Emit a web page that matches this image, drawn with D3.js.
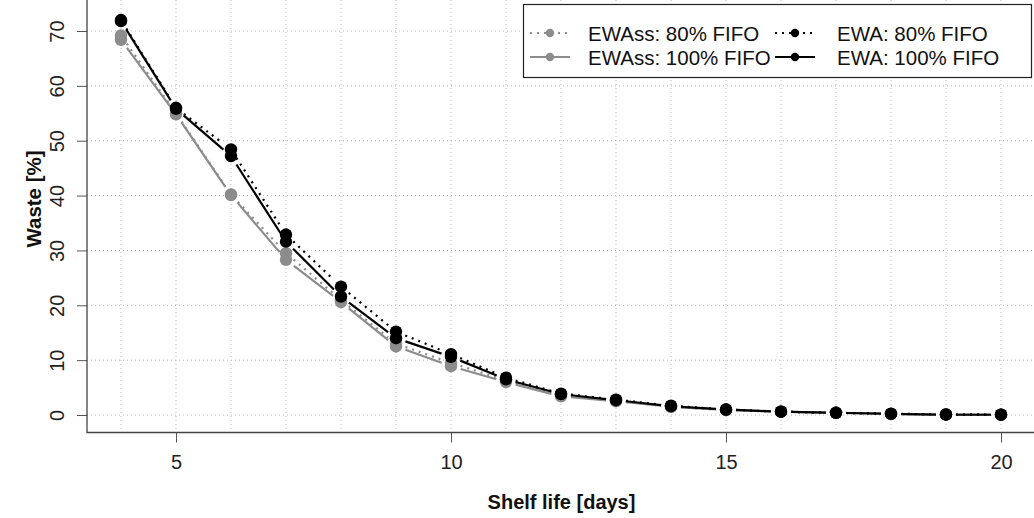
<!DOCTYPE html>
<html>
<head>
<meta charset="utf-8">
<script src="https://cdn.jsdelivr.net/npm/d3@7"></script>
<style>
  html, body { margin: 0; padding: 0; background: #fff; }
  svg { display: block; font-family: "Liberation Sans", Arial, sans-serif; }
</style>
</head>
<body>
<svg id="chart" width="1034" height="518"></svg>
<script>
// ---- data ----
const days = [4,5,6,7,8,9,10,11,12,13,14,15,16,17,18,19,20];
const ewass80  = [69.2,55.0,40.2,29.5,21.0,13.0,9.5,6.3,3.6,2.6,1.5,0.9,0.6,0.4,0.2,0.1,0.05];
const ewass100 = [68.4,54.8,40.1,28.3,20.6,12.5,8.9,6.0,3.4,2.5,1.5,0.9,0.6,0.4,0.2,0.1,0.05];
const ewa80    = [72.0,56.0,48.4,32.9,23.4,15.2,11.1,6.8,3.9,2.8,1.7,1.0,0.6,0.4,0.25,0.1,0.05];
const ewa100   = [71.8,55.8,47.2,31.6,21.6,14.0,10.6,6.5,3.8,2.7,1.6,1.0,0.6,0.4,0.2,0.05,0.05];
const xTicks = [5,10,15,20];
const yTicks = [0,10,20,30,40,50,60,70];
const seriesNames = ["EWAss: 80% FIFO","EWAss: 100% FIFO","EWA: 80% FIFO","EWA: 100% FIFO"];

const GRAY = "#8c8c8c", BLACK = "#000";
const series = [
  {name: seriesNames[0], values: ewass80,  color: GRAY,  dash: "2,5"},
  {name: seriesNames[1], values: ewass100, color: GRAY,  dash: null},
  {name: seriesNames[2], values: ewa80,    color: BLACK, dash: "2,5"},
  {name: seriesNames[3], values: ewa100,   color: BLACK, dash: null}
];

const svg = d3.select("#chart");
const pLeft = 87, pBottom = 432.5, pRight = 1036, pTop = 0;
const x = d3.scaleLinear().domain([4,20]).range([121,1001]);
const y = d3.scaleLinear().domain([0,70]).range([415,31]);

// grid
const grid = svg.append("g");
grid.selectAll("line.v").data(days).join("line").attr("class", "v")
  .attr("x1", d => x(d)).attr("x2", d => x(d))
  .attr("y1", pTop).attr("y2", pBottom)
  .attr("stroke", "#b8b8b8").attr("stroke-width", 1).attr("stroke-dasharray", "1,3");
grid.selectAll("line.h").data(yTicks).join("line").attr("class", "h")
  .attr("x1", pLeft).attr("x2", pRight)
  .attr("y1", d => y(d)).attr("y2", d => y(d))
  .attr("stroke", "#b8b8b8").attr("stroke-width", 1).attr("stroke-dasharray", "1,3");

// axes
const ax = svg.append("g").attr("transform", `translate(${pLeft},0)`)
  .call(d3.axisLeft(y).tickValues(yTicks).tickSize(10).tickSizeOuter(0).tickPadding(0));
ax.select(".domain").remove();
ax.selectAll(".tick line").attr("stroke", "#555");
ax.selectAll(".tick text")
  .attr("x", 0).attr("dy", null)
  .attr("transform", "translate(-30,0) rotate(-90)")
  .attr("text-anchor", "middle").attr("dominant-baseline", "central")
  .attr("font-size", 20).attr("fill", "#222")
  .attr("font-family", "Liberation Sans, Arial, sans-serif");

const bx = svg.append("g").attr("transform", `translate(0,${pBottom})`)
  .call(d3.axisBottom(x).tickValues(xTicks).tickSize(10).tickSizeOuter(0).tickPadding(0).tickFormat(d3.format("d")));
bx.select(".domain").remove();
bx.selectAll(".tick line").attr("stroke", "#555");
bx.selectAll(".tick text")
  .attr("y", 29).attr("dy", null)
  .attr("dominant-baseline", "central")
  .attr("font-size", 20).attr("fill", "#222")
  .attr("font-family", "Liberation Sans, Arial, sans-serif");

// L frame
svg.append("path")
  .attr("d", `M${pLeft},${pTop}V${pBottom}H${pRight}`)
  .attr("fill", "none").attr("stroke", "#444").attr("stroke-width", 1.3);

// axis titles
svg.append("text")
  .attr("transform", `translate(33,199) rotate(-90)`)
  .attr("text-anchor", "middle").attr("dominant-baseline", "central")
  .attr("font-weight", "bold").attr("font-size", 20.5).attr("fill", "#111")
  .text("Waste [%]");
svg.append("text")
  .attr("x", (pLeft + pRight) / 2).attr("y", 502)
  .attr("text-anchor", "middle").attr("dominant-baseline", "central")
  .attr("font-weight", "bold").attr("font-size", 20).attr("fill", "#111")
  .text("Shelf life [days]");

// type="b" style: segments with gaps around the points
const GAP = 10;
function gappedSegments(vals) {
  const segs = [];
  for (let i = 0; i < days.length - 1; i++) {
    const x1 = x(days[i]), y1 = y(vals[i]), x2 = x(days[i+1]), y2 = y(vals[i+1]);
    const dx = x2 - x1, dy = y2 - y1, L = Math.hypot(dx, dy);
    if (L <= 2 * GAP) continue;
    const ux = dx / L, uy = dy / L;
    segs.push([x1 + ux*GAP, y1 + uy*GAP, x2 - ux*GAP, y2 - uy*GAP]);
  }
  return segs;
}

series.forEach(s => {
  const g = svg.append("g");
  g.selectAll("line").data(gappedSegments(s.values)).join("line")
    .attr("x1", d => d[0]).attr("y1", d => d[1]).attr("x2", d => d[2]).attr("y2", d => d[3])
    .attr("stroke", s.color).attr("stroke-width", 2.2)
    .attr("stroke-dasharray", s.dash);
  g.selectAll("circle").data(s.values).join("circle")
    .attr("cx", (d, i) => x(days[i])).attr("cy", d => y(d))
    .attr("r", 6.2).attr("fill", s.color);
});

// legend
const lg = svg.append("g");
lg.append("rect").attr("x", 523.5).attr("y", 4.5).attr("width", 508).attr("height", 73)
  .attr("fill", "#fff").attr("stroke", "#222").attr("stroke-width", 1.2);
const legendPos = [
  {lx: 530, ry: 33, tx: 588},
  {lx: 530, ry: 57, tx: 588},
  {lx: 775, ry: 33, tx: 837},
  {lx: 775, ry: 57, tx: 837}
];
series.forEach((s, i) => {
  const p = legendPos[i];
  lg.append("line").attr("x1", p.lx).attr("x2", p.lx + 40)
    .attr("y1", p.ry).attr("y2", p.ry)
    .attr("stroke", s.color).attr("stroke-width", 2.2).attr("stroke-dasharray", s.dash);
  lg.append("circle").attr("cx", p.lx + 20).attr("cy", p.ry).attr("r", 4.2).attr("fill", s.color);
  lg.append("text").attr("x", p.tx).attr("y", p.ry)
    .attr("dominant-baseline", "central").attr("font-size", 20.5).attr("fill", "#111")
    .text(s.name);
});
</script>
</body>
</html>
